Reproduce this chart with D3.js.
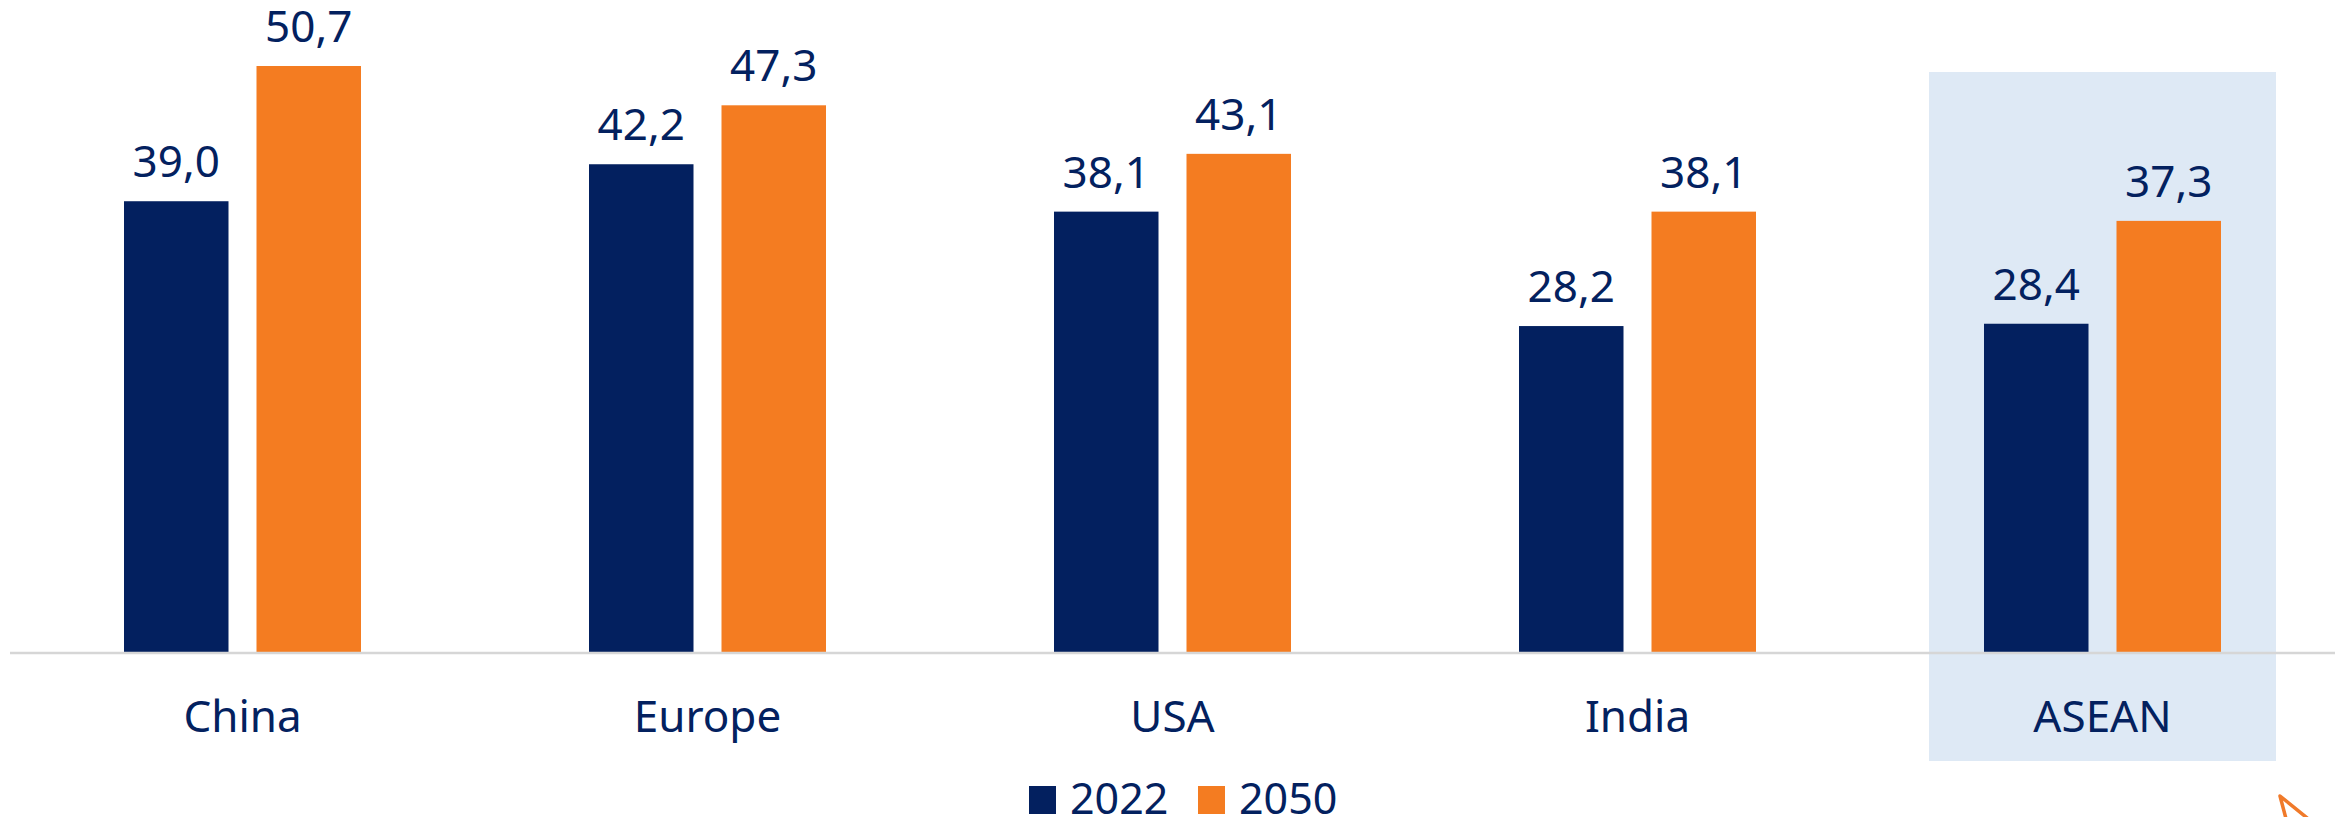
<!DOCTYPE html>
<html>
<head>
<meta charset="utf-8">
<script src="https://cdn.jsdelivr.net/npm/d3@7"></script>
<style>
  html, body { margin: 0; padding: 0; background: #ffffff; }
  svg { display: block; }
  text { font-family: "Noto Sans", "Open Sans", sans-serif; fill: #03215f; }
</style>
</head>
<body>
<svg id="chart" width="2348" height="817"></svg>
<script>
// Regions compared, two years each
const categories = ["China", "Europe", "USA", "India", "ASEAN"];
const seriesNames = ["2022", "2050"];
const values2022 = [39.0, 42.2, 38.1, 28.2, 28.4];
const values2050 = [50.7, 47.3, 43.1, 38.1, 37.3];
const highlighted = ["ASEAN"];

const colors = { "2022": "#03205f", "2050": "#f47c21" };

const W = 2348, H = 817;
const baseY = 652;
const svg = d3.select("#chart");

const x = d3.scaleBand().domain(categories).range([10, 2335]).padding(0);
const y = d3.scaleLinear().domain([0, 50.7]).range([baseY, 66]);

const barW = 104.5, gap = 28;
const sub = d3.scaleOrdinal().domain(seriesNames)
  .range([-(barW + gap / 2), gap / 2]);

const rows = categories.map((c, i) => ({
  cat: c,
  vals: [
    { key: "2022", v: values2022[i] },
    { key: "2050", v: values2050[i] }
  ]
}));

// highlight band behind the selected region
svg.selectAll("rect.hl")
  .data(highlighted)
  .join("rect")
  .attr("class", "hl")
  .attr("x", d => x(d) + x.bandwidth() / 2 - 173.5)
  .attr("y", 72)
  .attr("width", 347)
  .attr("height", 689)
  .attr("fill", "#dee9f5");

const g = svg.selectAll("g.cat")
  .data(rows)
  .join("g")
  .attr("class", "cat")
  .attr("transform", d => `translate(${x(d.cat) + x.bandwidth() / 2},0)`);

g.selectAll("rect.bar")
  .data(d => d.vals)
  .join("rect")
  .attr("class", "bar")
  .attr("x", d => sub(d.key))
  .attr("y", d => y(d.v))
  .attr("width", barW)
  .attr("height", d => baseY - y(d.v))
  .attr("fill", d => colors[d.key]);

const fmt = v => d3.format(".1f")(v).replace(".", ",");

g.selectAll("text.val")
  .data(d => d.vals)
  .join("text")
  .attr("class", "val")
  .attr("x", d => sub(d.key) + barW / 2)
  .attr("y", d => y(d.v) - 24)
  .attr("text-anchor", "middle")
  .attr("font-size", 44)
  .text(d => fmt(d.v));

// baseline
svg.append("line")
  .attr("x1", 10).attr("x2", 2335)
  .attr("y1", baseY + 1).attr("y2", baseY + 1)
  .attr("stroke", "#d6d6d6")
  .attr("stroke-width", 2.5);

// category labels
g.append("text")
  .attr("x", 0)
  .attr("y", 732)
  .attr("text-anchor", "middle")
  .attr("font-size", 44)
  .text(d => d.cat);

// legend
const legendX = [1029, 1198];
const lg = svg.selectAll("g.legend")
  .data(seriesNames)
  .join("g")
  .attr("class", "legend")
  .attr("transform", (d, i) => `translate(${legendX[i]},0)`);

lg.append("rect")
  .attr("x", 0).attr("y", 786)
  .attr("width", 27).attr("height", 28)
  .attr("fill", d => colors[d]);

lg.append("text")
  .attr("x", 41).attr("y", 814)
  .attr("font-size", 43)
  .text(d => d);

// small orange pointer mark in the bottom-right corner
svg.append("path")
  .attr("d", "M2289,830 L2280,796 L2322,830")
  .attr("fill", "none")
  .attr("stroke", "#f07a2a")
  .attr("stroke-width", 3.5)
  .attr("stroke-linejoin", "round")
  .attr("stroke-linecap", "round")
  .style("filter", "blur(0.6px)");
</script>
</body>
</html>
